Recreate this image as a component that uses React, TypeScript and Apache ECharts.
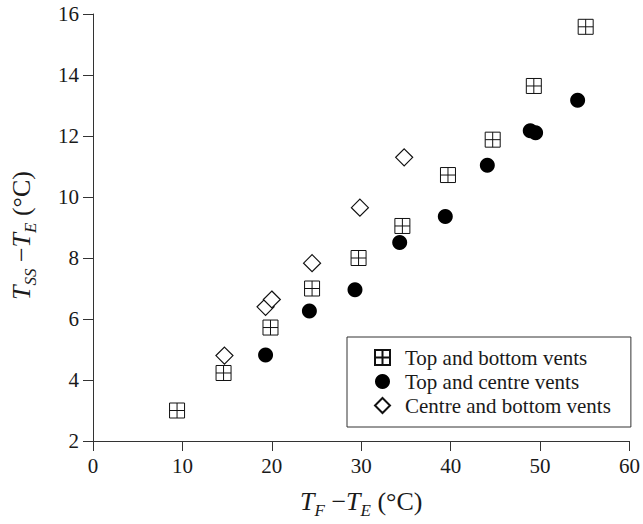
import React, { useEffect, useRef } from "react";
import * as echarts from "echarts";

const seriesNames = ["Top and bottom vents", "Top and centre vents", "Centre and bottom vents"];

const topBottomVents: [number, number][] = [
  [9.4, 3.0], [14.6, 4.23], [19.85, 5.72], [24.5, 7.0], [29.7, 8.0],
  [34.6, 9.05], [39.7, 10.72], [44.7, 11.88], [49.3, 13.64], [55.1, 15.58],
];
const topCentreVents: [number, number][] = [
  [19.3, 4.82], [24.2, 6.26], [29.3, 6.96], [34.3, 8.51], [39.4, 9.36],
  [44.1, 11.04], [48.9, 12.17], [49.5, 12.11], [54.2, 13.17],
];
const centreBottomVents: [number, number][] = [
  [14.7, 4.8], [19.3, 6.4], [20.0, 6.64], [24.5, 7.83], [29.85, 9.65], [34.8, 11.3],
];

const xTicks = { min: 0, max: 60, interval: 10 };
const yTicks = { min: 2, max: 16, interval: 2 };

const FONT = "'Liberation Serif', 'Times New Roman', serif";
const INK = "#1a1a1a";
const AXIS = "#333";

const crossSquare = "path://M0,0L10,0L10,10L0,10Z M5,0L5,10 M0,5L10,5";

const makeRich = (endPad: number) => ({
  i: { fontFamily: FONT, fontStyle: "italic", fontSize: 26, color: INK, verticalAlign: "bottom", padding: [0, 0, 5, 0] },
  s: { fontFamily: FONT, fontStyle: "italic", fontSize: 17, color: INK, verticalAlign: "bottom", padding: [0, 0, 0, 0] },
  n: { fontFamily: FONT, fontSize: 26, color: INK, verticalAlign: "bottom", padding: [0, 0, 5, 0] },
  e: { fontFamily: FONT, fontSize: 26, color: INK, verticalAlign: "bottom", padding: [0, endPad, 5, 0] },
});

export default function App() {
  const ref = useRef<HTMLDivElement>(null);
  useEffect(() => {
    if (!ref.current) return;
    const chart = echarts.init(ref.current, null, { renderer: "svg" });
    chart.setOption({
      animation: false,
      backgroundColor: "#fff",
      textStyle: { fontFamily: FONT },
      grid: { left: 91, right: 11, top: 14, bottom: 81, containLabel: false },
      legend: {
        orient: "vertical",
        left: 347,
        top: 337,
        data: seriesNames,
        backgroundColor: "#fff",
        borderColor: AXIS,
        borderWidth: 1,
        borderRadius: 0,
        padding: [10, 20, 11, 27],
        itemWidth: 15,
        itemHeight: 15,
        itemGap: 3,
        textStyle: { fontFamily: FONT, fontSize: 21, color: INK, lineHeight: 21, padding: [0, 0, 0, 10] },
      },
      xAxis: {
        type: "value",
        min: xTicks.min,
        max: xTicks.max,
        interval: xTicks.interval,
        name: "{i|T}{s|F}{n| −}{i|T}{s|E}{e| (°C)}",
        nameLocation: "middle",
        nameGap: 47,
        nameTextStyle: { rich: makeRich(0) },
        axisLine: { lineStyle: { color: AXIS, width: 1 } },
        axisTick: { length: 10, lineStyle: { color: AXIS } },
        axisLabel: { fontFamily: FONT, fontSize: 21, color: INK, margin: 14 },
        splitLine: { show: false },
      },
      yAxis: {
        type: "value",
        min: yTicks.min,
        max: yTicks.max,
        interval: yTicks.interval,
        name: "{i|T}{s|SS}{n| −}{i|T}{s|E}{e| (°C)}",
        nameLocation: "middle",
        nameRotate: 90,
        nameGap: 54,
        nameTextStyle: { rich: makeRich(16) },
        axisLine: { lineStyle: { color: AXIS, width: 1 } },
        axisTick: { length: 10, lineStyle: { color: AXIS } },
        axisLabel: { fontFamily: FONT, fontSize: 21, color: INK, margin: 14 },
        splitLine: { show: false },
      },
      series: [
        {
          name: seriesNames[0],
          type: "scatter",
          data: topBottomVents,
          symbol: crossSquare,
          symbolSize: 15,
          itemStyle: { color: "#fff", borderColor: "#111", borderWidth: 1, opacity: 1 },
          z: 3,
        },
        {
          name: seriesNames[1],
          type: "scatter",
          data: topCentreVents,
          symbol: "circle",
          symbolSize: 15,
          itemStyle: { color: "#000", borderColor: "#000", borderWidth: 0, opacity: 1 },
          z: 2,
        },
        {
          name: seriesNames[2],
          type: "scatter",
          data: centreBottomVents,
          symbol: "diamond",
          symbolSize: 17,
          itemStyle: { color: "#fff", borderColor: "#111", borderWidth: 1.2, opacity: 1 },
          z: 4,
        },
      ],
    });
    return () => chart.dispose();
  }, []);
  return <div ref={ref} style={{ width: 643, height: 524, position: "absolute", left: 0, top: 0 }} />;
}
